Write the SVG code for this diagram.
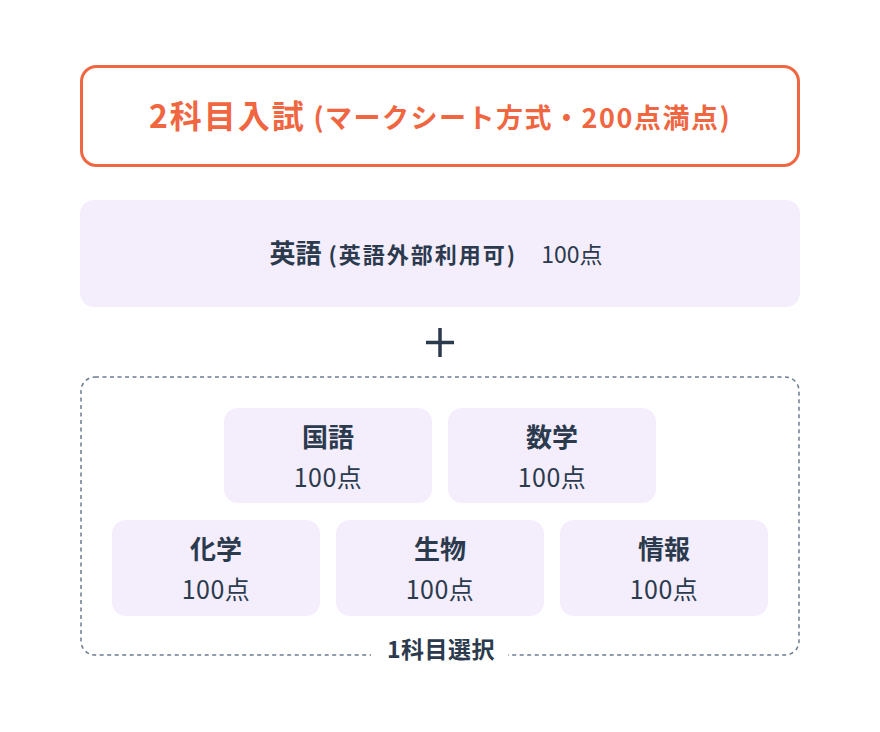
<svg xmlns="http://www.w3.org/2000/svg" width="880" height="732" viewBox="0 0 880 732">
  <style>
    .jp { font-family: "Noto Sans CJK JP", "Noto Sans", sans-serif; }
    .title { fill: #F06641; font-weight: 700; }
    .card { fill: #F3EDFC; }
    .dark { fill: #2B3A4D; }
    .b { font-weight: 700; }
    .r { font-weight: 400; }
    .name { font-size: 26px; font-weight: 700; }
    .pts { font-size: 25px; font-weight: 400; letter-spacing: 0.5px; }
  </style>
  <rect width="880" height="732" fill="#FFFFFF"/>

  <g id="header">
    <rect x="81.5" y="66.5" width="717" height="99" rx="15" fill="#FFFFFF" stroke="#F06641" stroke-width="3"/>
    <text class="jp title" x="440" y="128" text-anchor="middle"><tspan font-size="32" letter-spacing="2">2科目入試</tspan><tspan font-size="27" letter-spacing="1.5"> (マークシート方式・200点満点)</tspan></text>
  </g>

  <g id="english">
    <rect class="card" x="80" y="200" width="720" height="107" rx="14"/>
    <text class="jp dark" x="436" y="263" text-anchor="middle"><tspan class="b" font-size="26">英語</tspan><tspan class="b" font-size="22" letter-spacing="2"> (英語外部利用可)</tspan><tspan class="r" font-size="23" dx="24">100点</tspan></text>
  </g>

  <g id="plus">
    <path d="M426 342.5 H454 M440 328 V357" stroke="#2B3A4D" stroke-width="3.5" fill="none"/>
  </g>

  <g id="connectors">
    <rect x="81" y="377" width="718" height="278" rx="14" fill="none" stroke="#6C7C90" stroke-width="1.5" stroke-dasharray="4 3.5"/>
    <rect x="371" y="640" width="137" height="25" fill="#FFFFFF"/>
    <text class="jp dark b" x="441" y="658" font-size="23" letter-spacing="0.5" text-anchor="middle">1科目選択</text>
  </g>

  <g id="kokugo">
    <rect class="card" x="224" y="408" width="208" height="95" rx="14"/>
    <text class="jp dark name" x="328" y="447" text-anchor="middle">国語</text>
    <text class="jp dark pts" x="328" y="487" text-anchor="middle">100点</text>
  </g>
  <g id="sugaku">
    <rect class="card" x="448" y="408" width="208" height="95" rx="14"/>
    <text class="jp dark name" x="552" y="447" text-anchor="middle">数学</text>
    <text class="jp dark pts" x="552" y="487" text-anchor="middle">100点</text>
  </g>
  <g id="kagaku">
    <rect class="card" x="112" y="520" width="208" height="96" rx="14"/>
    <text class="jp dark name" x="216" y="559" text-anchor="middle">化学</text>
    <text class="jp dark pts" x="216" y="599" text-anchor="middle">100点</text>
  </g>
  <g id="seibutsu">
    <rect class="card" x="336" y="520" width="208" height="96" rx="14"/>
    <text class="jp dark name" x="440" y="559" text-anchor="middle">生物</text>
    <text class="jp dark pts" x="440" y="599" text-anchor="middle">100点</text>
  </g>
  <g id="joho">
    <rect class="card" x="560" y="520" width="208" height="96" rx="14"/>
    <text class="jp dark name" x="664" y="559" text-anchor="middle">情報</text>
    <text class="jp dark pts" x="664" y="599" text-anchor="middle">100点</text>
  </g>
</svg>
